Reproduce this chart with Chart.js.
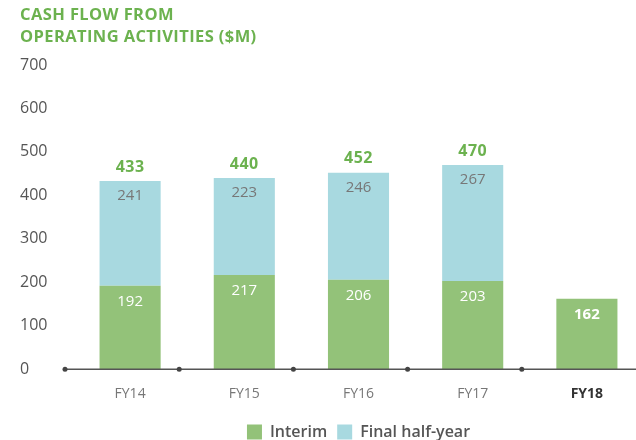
<!DOCTYPE html>
<html lang="en">
<head>
    <meta charset="UTF-8">
    <title>Cash flow from operating activities</title>
    <style>
        html, body { margin: 0; padding: 0; background: #fff; overflow: hidden; }
        #wrap { width: 650px; height: 450px; position: relative; }
    </style>
</head>
<body>
<div id="wrap">
    <canvas id="cashChart"></canvas>
</div>

<script src="https://cdn.jsdelivr.net/npm/chart.js"></script>
<script>
    // values ($M)
    const years = ['FY14', 'FY15', 'FY16', 'FY17', 'FY18'];
    const interim = [192, 217, 206, 203, 162];
    const finalHalf = [241, 223, 246, 267, null];
    const totals = [433, 440, 452, 470, null];
    const yTicks = [0, 100, 200, 300, 400, 500, 600, 700];

    const green = '#93c279';
    const blue = '#a8d9e0';
    const titleGreen = '#6cb24f';
    const font = "'Open Sans', sans-serif";

    // title, axis line with dots and value labels
    const decorations = {
        id: 'decorations',
        afterDraw(chart) {
            const ctx = chart.ctx;
            const x = chart.scales.x;

            ctx.save();
            ctx.fillStyle = titleGreen;
            ctx.font = 'bold 16.5px ' + font;
            ctx.letterSpacing = '0.4px';
            ctx.textAlign = 'left';
            ctx.textBaseline = 'middle';
            ctx.fillText('CASH FLOW FROM', 20, 15);
            ctx.fillText('OPERATING ACTIVITIES ($M)', 20, 37);
            ctx.letterSpacing = '0px';

            // baseline and dots
            const step = x.getPixelForValue(1) - x.getPixelForValue(0);
            const y0 = chart.scales.y.getPixelForValue(0);
            const start = x.getPixelForValue(0) - step / 2 - 8;
            ctx.strokeStyle = '#555';
            ctx.lineWidth = 1.5;
            ctx.beginPath();
            ctx.moveTo(start, y0);
            ctx.lineTo(chart.width, y0);
            ctx.stroke();
            ctx.fillStyle = '#444';
            years.forEach((yr, i) => {
                ctx.beginPath();
                ctx.arc(x.getPixelForValue(i) - step / 2 - 8, y0, 2.5, 0, Math.PI * 2);
                ctx.fill();
            });

            // labels inside bars
            ctx.textAlign = 'center';
            const m0 = chart.getDatasetMeta(0);
            const m1 = chart.getDatasetMeta(1);
            m0.data.forEach((bar, i) => {
                const last = i === years.length - 1;
                ctx.fillStyle = '#fff';
                ctx.font = (last ? 'bold ' : '') + '15px ' + font;
                ctx.fillText(String(interim[i]), bar.x, bar.y + 16);
            });
            m1.data.forEach((bar, i) => {
                if (finalHalf[i] == null) return;
                ctx.fillStyle = '#777';
                ctx.font = '15px ' + font;
                ctx.fillText(String(finalHalf[i]), bar.x, bar.y + 15);
                ctx.fillStyle = titleGreen;
                ctx.font = 'bold 16px ' + font;
                ctx.letterSpacing = '0.5px';
                ctx.fillText(String(totals[i]), bar.x, bar.y - 14);
                ctx.letterSpacing = '0px';
            });
            ctx.restore();
        }
    };

    const chart = new Chart(document.getElementById('cashChart'), {
        type: 'bar',
        data: {
            labels: years,
            datasets: [{
                label: 'Interim',
                data: interim,
                backgroundColor: green,
                barPercentage: 0.535,
                categoryPercentage: 1
            }, {
                label: 'Final half-year',
                data: finalHalf,
                backgroundColor: blue,
                barPercentage: 0.535,
                categoryPercentage: 1
            }]
        },
        options: {
            responsive: true,
            maintainAspectRatio: false,
            animation: false,
            layout: {
                padding: { left: 20, right: 6, top: 65, bottom: 0 }
            },
            plugins: {
                legend: {
                    position: 'bottom',
                    fullSize: false,
                    labels: {
                        boxWidth: 15,
                        boxHeight: 15,
                        padding: 10,
                        color: '#555',
                        font: { family: font, size: 16, weight: '600' }
                    }
                },
                tooltip: { enabled: false }
            },
            scales: {
                x: {
                    stacked: true,
                    afterFit: (s) => { s.height += 4; },
                    grid: { display: false },
                    border: { display: false },
                    ticks: {
                        padding: 8,
                        color: (c) => c.index === 4 ? '#333' : '#777',
                        font: (c) => ({ family: font, size: 14, weight: c.index === 4 ? 'bold' : 'normal' })
                    }
                },
                y: {
                    stacked: true,
                    min: 0,
                    max: 700,
                    afterBuildTicks: (s) => { s.ticks = yTicks.map(v => ({ value: v })); },
                    afterFit: (s) => { s.width = 53; },
                    grid: { display: false },
                    border: { display: false },
                    ticks: {
                        crossAlign: 'far',
                        color: '#555',
                        font: { family: font, size: 16 }
                    }
                }
            }
        },
        plugins: [decorations]
    });
</script>
</body>
</html>
